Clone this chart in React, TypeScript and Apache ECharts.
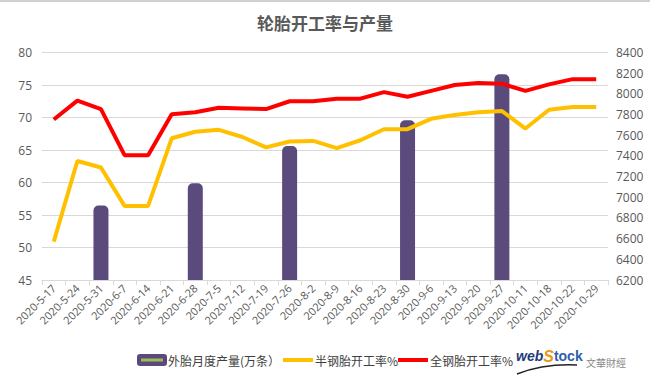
import React, { useEffect, useRef } from "react";
import * as echarts from "echarts";

const categories = [
  "2020-5-17", "2020-5-24", "2020-5-31", "2020-6-7", "2020-6-14", "2020-6-21",
  "2020-6-28", "2020-7-5", "2020-7-12", "2020-7-19", "2020-7-26", "2020-8-2",
  "2020-8-9", "2020-8-16", "2020-8-23", "2020-8-30", "2020-9-6", "2020-9-13",
  "2020-9-20", "2020-9-27", "2020-10-11", "2020-10-18", "2020-10-22", "2020-10-29",
];

const outputValues: (number | null)[] = [
  null, null, 6920, null, null, null, 7135, null, null, null, 7495, null,
  null, null, null, 7745, null, null, null, 8190, null, null, null, null,
];

const semiSteelRate = [
  50.9, 63.3, 62.3, 56.4, 56.4, 66.8, 67.8, 68.1, 67.0, 65.4, 66.3, 66.4,
  65.3, 66.5, 68.2, 68.2, 69.8, 70.4, 70.8, 71.0, 68.3, 71.2, 71.6, 71.6,
];

const allSteelRate = [
  69.7, 72.6, 71.3, 64.2, 64.2, 70.5, 70.8, 71.5, 71.4, 71.3, 72.5, 72.5,
  72.9, 72.9, 73.9, 73.2, 74.1, 75.0, 75.3, 75.2, 74.1, 75.1, 75.9, 75.9,
];

const seriesNames = ["外胎月度产量(万条）", "半钢胎开工率%", "全钢胎开工率%"];
const seriesColors = ["#5B4A7C", "#FFC000", "#FF0000"];

export default function App() {
  const ref = useRef<HTMLDivElement>(null);
  useEffect(() => {
    if (!ref.current) return;
    const chart = echarts.init(ref.current, undefined, { renderer: "svg" });
    const axisLabelColor = "#595959";
    const legendFont = "12px 'Noto Sans CJK SC'";
    const legendY = 360;
    chart.setOption({
      animation: false,
      backgroundColor: "#ffffff",
      title: {
        text: "轮胎开工率与产量",
        left: "center",
        top: 9,
        textStyle: {
          fontFamily: "Noto Sans CJK SC",
          fontSize: 17,
          fontWeight: "bold",
          color: "#595959",
        },
      },
      grid: { left: 42, right: 42, top: 52.5, bottom: 96 },
      xAxis: {
        type: "category",
        data: categories,
        boundaryGap: true,
        axisLine: { show: true, lineStyle: { color: "#d9d9d9" } },
        axisTick: { show: true, length: 5, lineStyle: { color: "#d9d9d9" } },
        axisLabel: {
          rotate: 45,
          interval: 0,
          color: axisLabelColor,
          fontSize: 11,
          fontFamily: "Open Sans",
          margin: 6,
        },
      },
      yAxis: [
        {
          type: "value",
          min: 45,
          max: 80,
          interval: 5,
          axisLine: { show: false },
          axisTick: { show: false },
          axisLabel: { color: axisLabelColor, fontSize: 12, margin: 10, fontFamily: "Open Sans" },
          splitLine: { show: true, lineStyle: { color: "#d9d9d9" } },
        },
        {
          type: "value",
          min: 6200,
          max: 8400,
          interval: 200,
          position: "right",
          axisLine: { show: false },
          axisTick: { show: false },
          axisLabel: {
            color: axisLabelColor,
            fontSize: 12,
            margin: 8,
            fontFamily: "Open Sans",
            formatter: (v: number) => String(v),
          },
          splitLine: { show: false },
        },
      ],
      series: [
        {
          name: seriesNames[0],
          type: "bar",
          yAxisIndex: 1,
          data: outputValues,
          barWidth: 15,
          itemStyle: { color: seriesColors[0], borderRadius: [5, 5, 0, 0] },
          z: 1,
        },
        {
          name: seriesNames[1],
          type: "line",
          yAxisIndex: 0,
          data: semiSteelRate,
          symbol: "none",
          lineStyle: { color: seriesColors[1], width: 4 },
          itemStyle: { color: seriesColors[1] },
          z: 3,
        },
        {
          name: seriesNames[2],
          type: "line",
          yAxisIndex: 0,
          data: allSteelRate,
          symbol: "none",
          lineStyle: { color: seriesColors[2], width: 4 },
          itemStyle: { color: seriesColors[2] },
          z: 4,
        },
      ],
      graphic: [
        { type: "rect", left: 0, top: 0, shape: { width: 650, height: 2 }, style: { fill: "#d0d0d0" } },
        // legend: bar item
        {
          type: "rect",
          shape: { x: 137, y: legendY - 6, width: 30, height: 12, r: 3 },
          style: { fill: seriesColors[0] },
        },
        {
          type: "rect",
          shape: { x: 141, y: legendY - 1.5, width: 22, height: 3 },
          style: { fill: "#9BBB59" },
        },
        {
          type: "text",
          x: 168,
          y: legendY,
          style: { text: seriesNames[0], fill: "#404040", font: legendFont, verticalAlign: "middle" },
        },
        // legend: semi-steel
        {
          type: "rect",
          shape: { x: 283, y: legendY - 2, width: 30, height: 4 },
          style: { fill: seriesColors[1] },
        },
        {
          type: "text",
          x: 315,
          y: legendY,
          style: { text: seriesNames[1], fill: "#404040", font: legendFont, verticalAlign: "middle" },
        },
        // legend: all-steel
        {
          type: "rect",
          shape: { x: 398, y: legendY - 2, width: 30, height: 4 },
          style: { fill: seriesColors[2] },
        },
        {
          type: "text",
          x: 430,
          y: legendY,
          style: { text: seriesNames[2], fill: "#404040", font: legendFont, verticalAlign: "middle" },
        },
        // logo
        {
          type: "text",
          x: 516,
          y: 356,
          style: {
            text: "{a|web}{b|S}{c|tock}",
            verticalAlign: "middle",
            rich: {
              a: { fill: "#1F3A7A", fontSize: 14, fontWeight: "bold", fontFamily: "Liberation Sans", fontStyle: "italic" },
              b: { fill: "#E89A1A", fontSize: 16, fontWeight: "bold", fontFamily: "Liberation Sans", fontStyle: "italic" },
              c: { fill: "#2F5FA8", fontSize: 14, fontWeight: "bold", fontFamily: "Liberation Sans" },
            },
          },
        },
        {
          type: "bezierCurve",
          shape: { x1: 517, y1: 374, x2: 577, y2: 365, cpx1: 535, cpy1: 367, cpx2: 555, cpy2: 364 },
          style: { stroke: "#222222", lineWidth: 1.5, fill: "none" },
        },
        {
          type: "text",
          x: 586,
          y: 362,
          style: { text: "文華財經", fill: "#888888", font: "10px 'Noto Sans CJK TC'", verticalAlign: "middle" },
        },
      ],
    });
    return () => chart.dispose();
  }, []);
  return (
    <div
      ref={ref}
      style={{ position: "fixed", left: 0, top: 0, width: 650, height: 376, background: "#fff" }}
    />
  );
}
